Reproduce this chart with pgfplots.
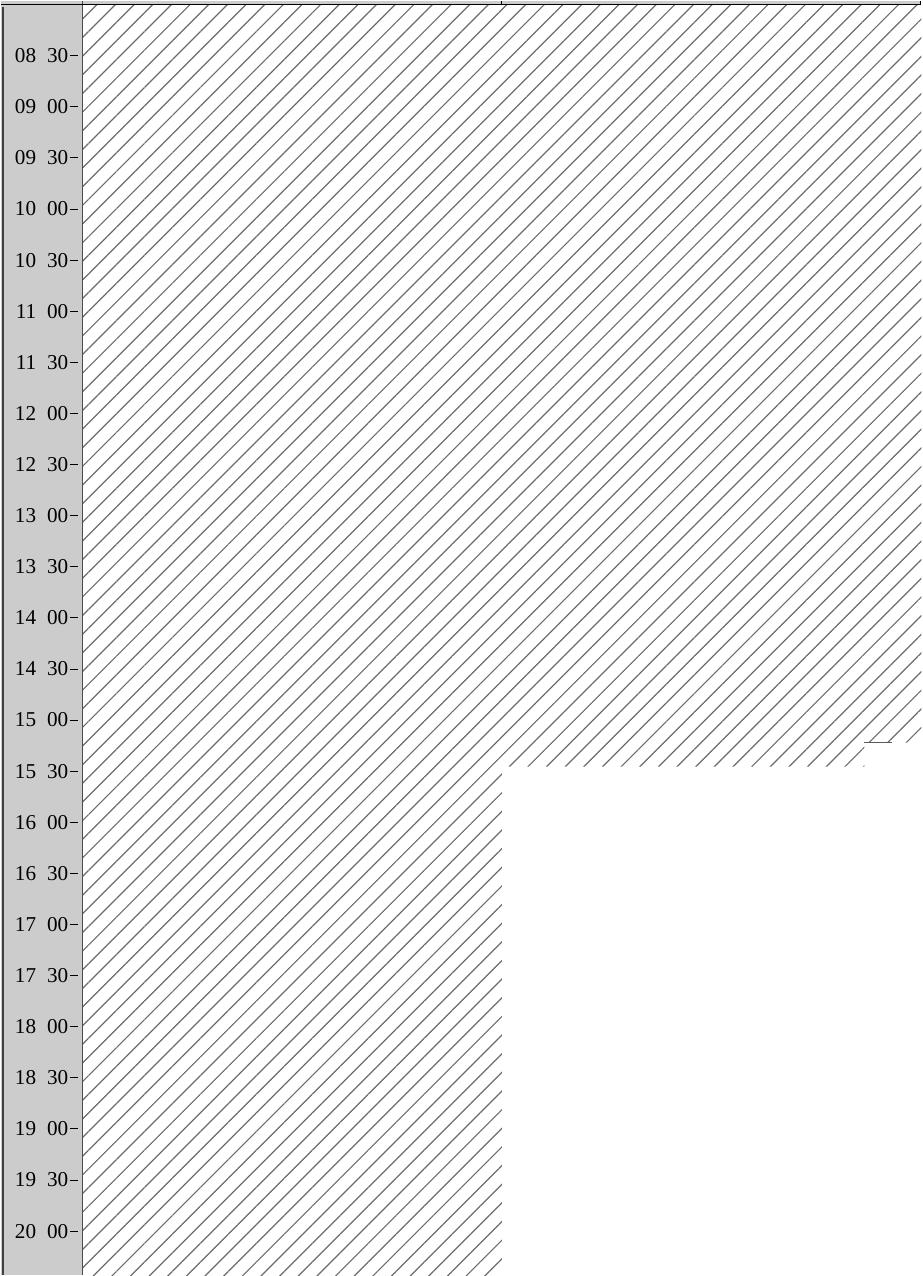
\documentclass[border=0pt]{standalone}
\usepackage{pgfplots}
\pgfplotsset{compat=1.18}
\usetikzlibrary{patterns.meta}
\usepackage{fontspec}
\setmainfont{Liberation Serif}
\newcommand{\tl}[2]{#1\hspace{5.5pt}#2\hspace{0.8pt}\rule[0.3em]{3.8pt}{0.5pt}}
\begin{document}
\fontsize{10.6}{12}\selectfont
\begin{tikzpicture}
\fill[gray!40] (-41pt,0pt) rectangle (0pt,636pt);
\fill[gray!40] (-41pt,636pt) rectangle (420pt,638pt);
\begin{axis}[
  at={(0pt,0pt)}, anchor=south west,
  width=420pt, height=636pt, scale only axis,
  xmin=0, xmax=2, ymin=8, ymax=20.43, y dir=reverse,
  axis line style={draw=none},
  xtick=\empty,
  ytick={8.5,9,9.5,10,10.5,11,11.5,12,12.5,13,13.5,14,14.5,15,15.5,16,16.5,17,17.5,18,18.5,19,19.5,20},
  yticklabels={\tl{08}{30},\tl{09}{00},\tl{09}{30},\tl{10}{00},\tl{10}{30},\tl{11}{00},\tl{11}{30},\tl{12}{00},\tl{12}{30},\tl{13}{00},\tl{13}{30},\tl{14}{00},\tl{14}{30},\tl{15}{00},\tl{15}{30},\tl{16}{00},\tl{16}{30},\tl{17}{00},\tl{17}{30},\tl{18}{00},\tl{18}{30},\tl{19}{00},\tl{19}{30},\tl{20}{00}},
  major tick length=0pt,
  yticklabel style={anchor=east, inner sep=0pt, xshift=-2.3pt, font=\fontsize{10.6}{12}\selectfont},
]
\addplot[draw=none, pattern={Lines[angle=45,distance=6.6pt,line width=0.6pt]}, pattern color=gray!85!black] coordinates {(0,8) (1,8) (1,20.43) (0,20.43)} -- cycle;
\addplot[draw=none, pattern={Lines[angle=45,distance=6.6pt,line width=0.6pt]}, pattern color=gray!85!black] coordinates {(1,8) (2,8) (2,15.22) (1.864,15.22) (1.864,15.455) (1,15.455)} -- cycle;
\addplot[gray!70!black, line width=0.6pt] coordinates {(1.864,15.22) (1.929,15.22)};
\end{axis}
\draw[gray!50!black, line width=1pt] (-40pt,0pt) -- (-40pt,635pt);
\draw[gray!60!black, line width=0.6pt] (0pt,0pt) -- (0pt,638pt);
\draw[black, line width=0.6pt] (-41pt,636pt) -- (420pt,636pt);
\draw[black, line width=0.5pt] (210pt,636pt) -- (210pt,638pt);
\draw[black, line width=0.6pt] (419.7pt,636pt) -- (419.7pt,638pt);
\path[use as bounding box] (-41pt,0pt) rectangle (420pt,638pt);
\end{tikzpicture}
\end{document}
